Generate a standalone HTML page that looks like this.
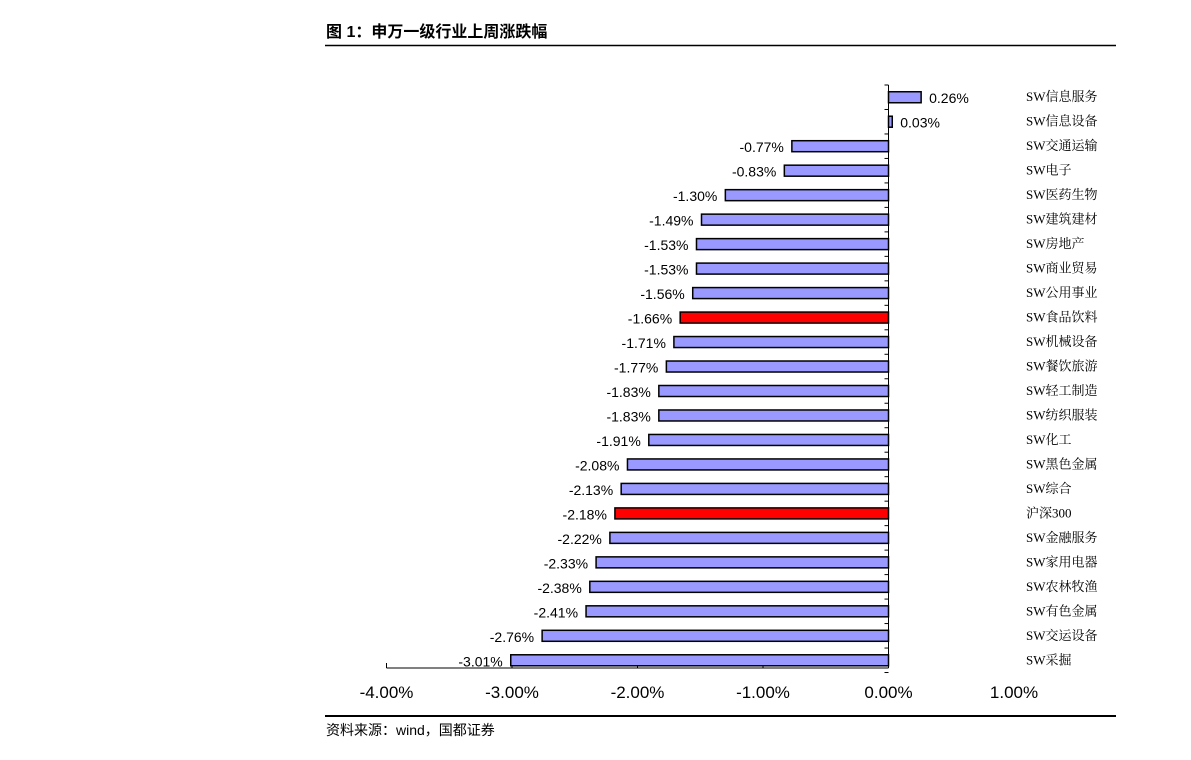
<!DOCTYPE html>
<html><head><meta charset="utf-8"><style>
body{margin:0;background:#fff;width:1191px;height:760px;overflow:hidden}
svg{display:block}
</style></head><body>
<svg id="chart" width="1191" height="760" xmlns="http://www.w3.org/2000/svg">
<text x="326" y="37" font-family="'Liberation Sans','Noto Sans CJK SC',sans-serif" font-size="16" font-weight="bold" fill="#000">图 1：申万一级行业上周涨跌幅</text>
<line x1="325" y1="45.5" x2="1116" y2="45.5" stroke="#000" stroke-width="1.5"/>
<line x1="325" y1="716" x2="1116" y2="716" stroke="#000" stroke-width="2"/>
<text x="326" y="735" font-family="'Liberation Sans','Noto Sans CJK SC',sans-serif" font-size="14" fill="#000">资料来源：wind，国都证券</text>
<g id="plot"></g>
</svg>
<script>
const categories=["SW信息服务","SW信息设备","SW交通运输","SW电子","SW医药生物","SW建筑建材","SW房地产","SW商业贸易","SW公用事业","SW食品饮料","SW机械设备","SW餐饮旅游","SW轻工制造","SW纺织服装","SW化工","SW黑色金属","SW综合","沪深300","SW金融服务","SW家用电器","SW农林牧渔","SW有色金属","SW交运设备","SW采掘"];
const values=[0.26,0.03,-0.77,-0.83,-1.30,-1.49,-1.53,-1.53,-1.56,-1.66,-1.71,-1.77,-1.83,-1.83,-1.91,-2.08,-2.13,-2.18,-2.22,-2.33,-2.38,-2.41,-2.76,-3.01];
const highlighted=["SW食品饮料","沪深300"];
const tickValues=[-4,-3,-2,-1,0,1];
const tickLabels=["-4.00%","-3.00%","-2.00%","-1.00%","0.00%","1.00%"];

const NS="http://www.w3.org/2000/svg";
const g=document.getElementById('plot');
const x0=888.5, pxPer=125.5, topY=81, rowH=24.48, axisY=668;
const xs=v=>x0+v*pxPer;
const ys=i=>topY+i*rowH+rowH/2;
function mk(t,a){const e=document.createElementNS(NS,t);for(const k in a)e.setAttribute(k,a[k]);g.appendChild(e);return e;}
const FONT="'Liberation Sans',sans-serif";
let ax=mk('line',{x1:xs(-4),y1:axisY,x2:xs(0),y2:axisY,stroke:'#000','stroke-width':1});


tickValues.forEach((v,i)=>{
  if(v<=0){const t=mk('line',{x1:xs(v),y1:axisY,x2:xs(v),y2:axisY-5,stroke:'#000'});
  
  }
  const l=mk('text',{x:xs(v),y:698,'text-anchor':'middle','font-family':FONT,'font-size':17,fill:'#000'});
  l.textContent=tickLabels[i];
  
  
});
let ya=mk('line',{x1:x0,y1:topY+4,x2:x0,y2:axisY,stroke:'#000','stroke-width':1});


for(let i=0;i<=categories.length;i++){
  const t=mk('line',{x1:x0-4,y1:topY+4+i*rowH,x2:x0,y2:topY+4+i*rowH,stroke:'#000'});
  
  
}
values.forEach((v,i)=>{
  const y=ys(i)+4;
  const xa=Math.min(xs(0),xs(v)), w=Math.abs(xs(v)-xs(0));
  const hl=highlighted.includes(categories[i]);
  const r=mk('rect',{x:xa,y:y-5.5,width:Math.max(w,2),height:11,fill:hl?'#ff0000':'#9999ff',stroke:'#000','stroke-width':1.5});
  
  
  const lbl=mk('text',{x:v<0?xs(v)-8:xs(v)+8,y:y+6,'text-anchor':v<0?'end':'start','font-family':FONT,'font-size':14,fill:'#000'});
  lbl.textContent=v.toFixed(2)+'%';
  
  
  const c=mk('text',{x:1026,y:y+4,'font-family':"'Liberation Serif','Noto Serif CJK SC',serif",'font-size':13,fill:'#000'});
  c.textContent=categories[i];
  
  
});
</script>
</body></html>
